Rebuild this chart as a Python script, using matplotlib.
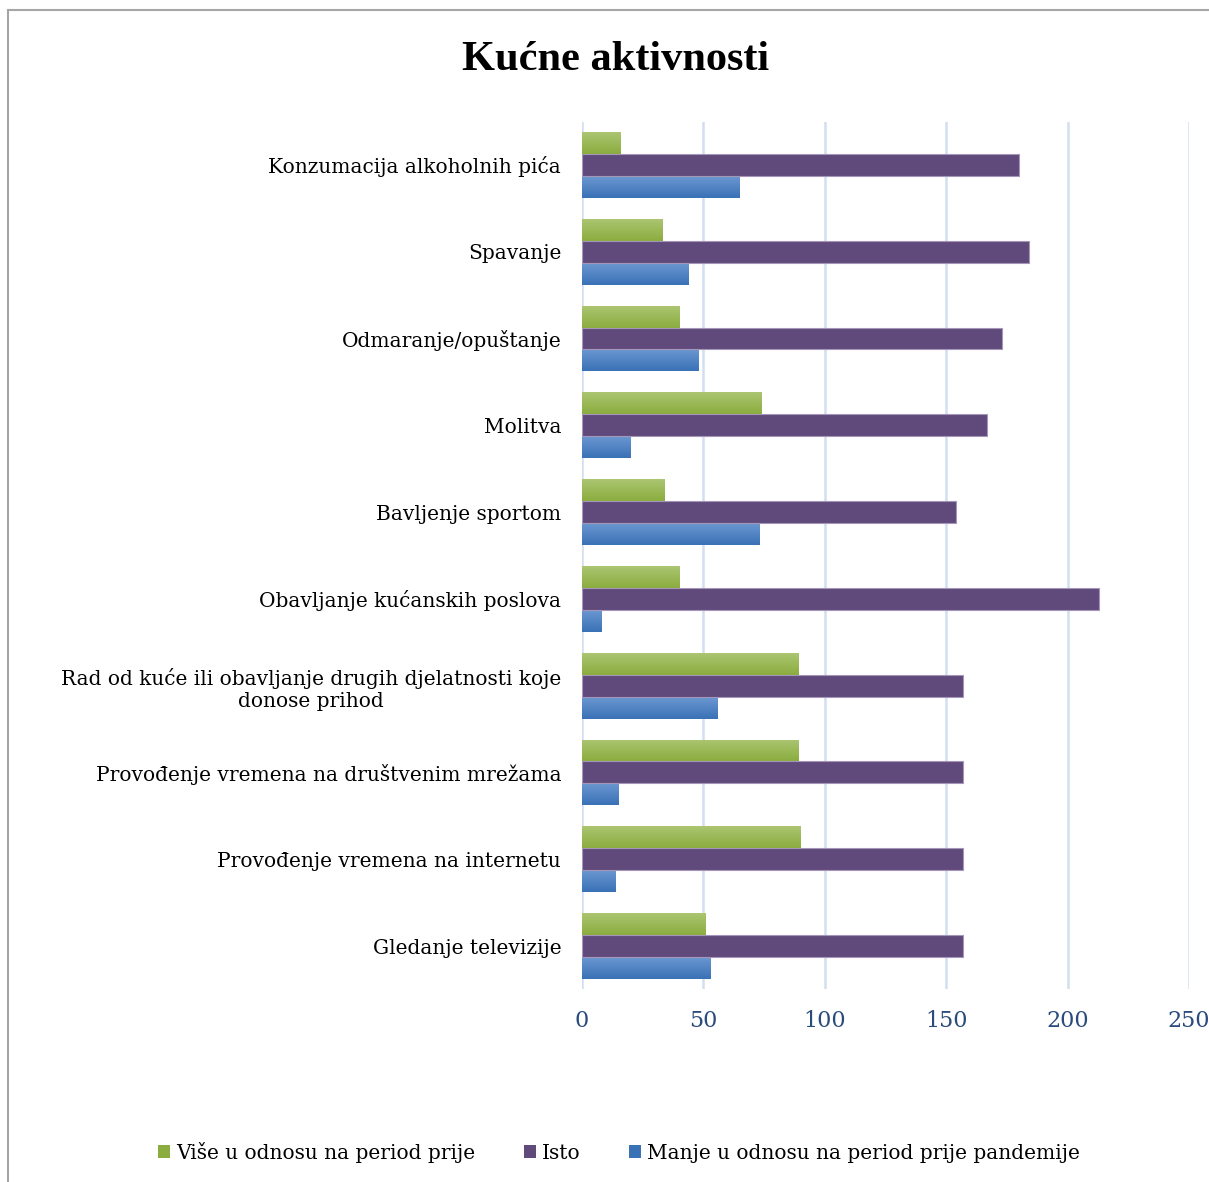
#!/usr/bin/env python
"""Kućne aktivnosti — grouped horizontal bar chart (Excel-style look)."""

import matplotlib

matplotlib.use("Agg")
import matplotlib.pyplot as plt  # noqa: E402
import numpy as np  # noqa: E402
from matplotlib.colors import to_rgb  # noqa: E402
from matplotlib.lines import Line2D  # noqa: E402
from matplotlib.patches import Patch  # noqa: E402

TITLE = "Kućne aktivnosti"

CATEGORIES = [
    "Konzumacija alkoholnih pića",
    "Spavanje",
    "Odmaranje/opuštanje",
    "Molitva",
    "Bavljenje sportom",
    "Obavljanje kućanskih poslova",
    "Rad od kuće ili obavljanje drugih djelatnosti koje\ndonose prihod",
    "Provođenje vremena na društvenim mrežama",
    "Provođenje vremena na internetu",
    "Gledanje televizije",
]

SERIES_NAMES = [
    "Više u odnosu na period prije",
    "Isto",
    "Manje u odnosu na period prije pandemije",
]

VISE = [16, 33, 40, 74, 34, 40, 89, 89, 90, 51]
ISTO = [180, 184, 173, 167, 154, 213, 157, 157, 157, 157]
MANJE = [65, 44, 48, 20, 73, 8, 56, 15, 14, 53]

X_TICKS = [0, 50, 100, 150, 200, 250]

FONT = ["DejaVu Serif"]
TITLE_FONT = ["Liberation Serif", "DejaVu Serif"]
GREEN = ("#abc571", "#8bad3f")
PURPLE = "#604a7b"
BLUE = ("#6b97d1", "#3a72b6")
GRID = "#d3def0"
TICK_BLUE = "#2a4b7c"


def gradient_fill(ax, patches, top, bottom):
    """Paint each bar patch with a vertical top→bottom colour gradient."""
    t = np.array(to_rgb(top))
    b = np.array(to_rgb(bottom))
    steps = np.linspace(0, 1, 40)[:, None]
    grad = (b * (1 - steps) + t * steps)[:, None, :]  # row 0 = bottom
    for p in patches:
        x0, y0 = p.get_x(), p.get_y()
        w, h = p.get_width(), p.get_height()
        im = ax.imshow(grad, extent=(x0, x0 + w, y0, y0 + h), origin="lower",
                       aspect="auto", interpolation="bilinear", zorder=2)
        im.set_clip_path(p)


def main() -> None:
    fig = plt.figure(figsize=(12.09, 11.82), dpi=100)
    ax = fig.add_axes([0.4814, 0.1629, 0.502, 0.7343])

    n = len(CATEGORIES)
    y = np.arange(n)[::-1].astype(float)
    h = 0.253

    g = ax.barh(y + h, VISE, height=h, facecolor="none", edgecolor="none", zorder=2)
    gradient_fill(ax, g.patches, *GREEN)
    ax.barh(y, ISTO, height=h, color=PURPLE, edgecolor="#a496b8", linewidth=0.8, zorder=3)
    b = ax.barh(y - h, MANJE, height=h, facecolor="none", edgecolor="none", zorder=2)
    gradient_fill(ax, b.patches, *BLUE)

    ax.set_xlim(0, 250)
    ax.set_ylim(-0.5, n - 0.5)
    ax.set_xticks(X_TICKS)
    ax.set_xticklabels([str(v) for v in X_TICKS], family=FONT, fontsize=16, color=TICK_BLUE)
    ax.set_yticks(y)
    ax.set_yticklabels(CATEGORIES, family=FONT, fontsize=14.5, color="black",
                       multialignment="center")
    ax.tick_params(axis="both", length=0)
    ax.tick_params(axis="x", pad=15)
    ax.tick_params(axis="y", pad=15)
    for s in ax.spines.values():
        s.set_visible(False)
    ax.grid(axis="x", color=GRID, linewidth=1.8, zorder=0)
    ax.set_axisbelow(True)

    fig.text(0.509, 0.949, TITLE, ha="center", va="center", family=TITLE_FONT,
             fontsize=30.5, fontweight="bold")

    handles = [
        Patch(facecolor=GREEN[1]),
        Patch(facecolor=PURPLE),
        Patch(facecolor=BLUE[1]),
    ]
    fig.legend(handles, SERIES_NAMES, loc="center", bbox_to_anchor=(0.512, 0.025),
               ncol=3, frameon=False, prop={"family": FONT, "size": 14.5},
               handlelength=0.6, handleheight=0.6, handletextpad=0.3, columnspacing=2.4)

    # outer chart frame (top and left edges visible in the crop)
    fig.add_artist(Line2D([8 / 1209, 8 / 1209], [0, 1 - 10 / 1182],
                          transform=fig.transFigure, color="#a6a6a6", linewidth=1.5))
    fig.add_artist(Line2D([8 / 1209, 1], [1 - 10 / 1182, 1 - 10 / 1182],
                          transform=fig.transFigure, color="#a6a6a6", linewidth=1.5))

    fig.savefig("out.png", dpi=100)
    plt.close(fig)


if __name__ == "__main__":
    main()
